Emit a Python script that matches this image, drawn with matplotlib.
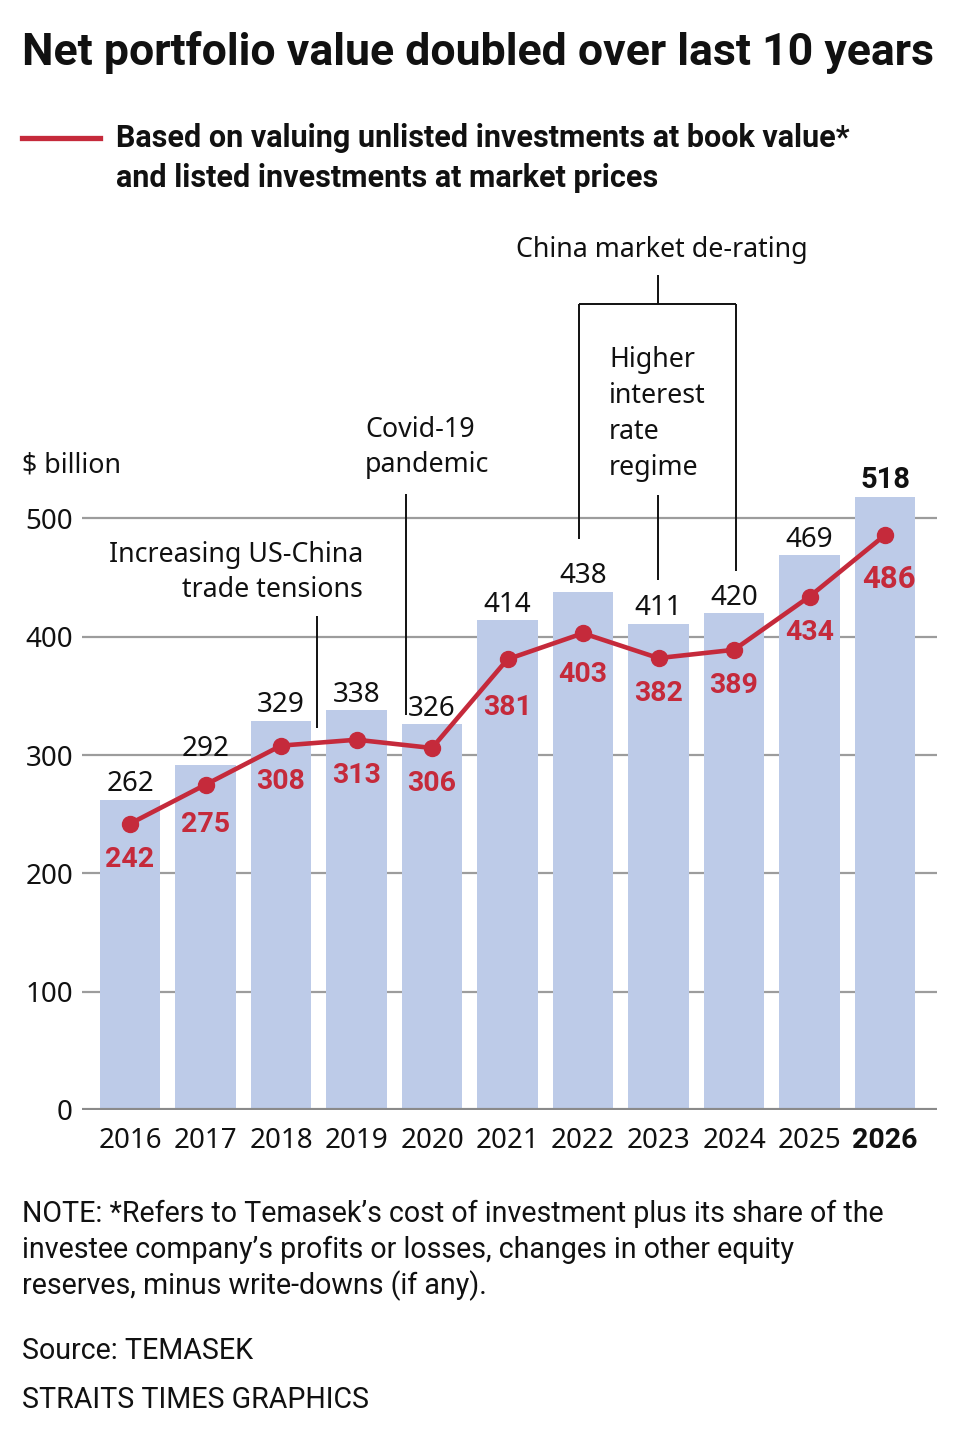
import matplotlib
matplotlib.use('Agg')
import matplotlib.pyplot as plt
from matplotlib import font_manager
import numpy as np

# ---------------- data ----------------
years = ['2016', '2017', '2018', '2019', '2020', '2021', '2022', '2023', '2024', '2025', '2026']
bar_values = [262, 292, 329, 338, 326, 414, 438, 411, 420, 469, 518]
line_values = [242, 275, 308, 313, 306, 381, 403, 382, 389, 434, 486]
y_ticks = [0, 100, 200, 300, 400, 500]

title = 'Net portfolio value doubled over last 10 years'
legend_lines = ['Based on valuing unlisted investments at book value*',
                'and listed investments at market prices']
note_lines = ['NOTE: *Refers to Temasek\u2019s cost of investment plus its share of the',
              'investee company\u2019s profits or losses, changes in other equity',
              'reserves, minus write-downs (if any).']
source_text = 'Source: TEMASEK'
credit_text = 'STRAITS TIMES GRAPHICS'

# ---------------- fonts ----------------
names = {f.name for f in font_manager.fontManager.ttflist}
COND = 'Liberation Sans Narrow' if 'Liberation Sans Narrow' in names else 'Roboto'
BODY = 'Noto Sans CJK SC' if 'Noto Sans CJK SC' in names else 'Noto Sans'
BOLDNUM = 'Roboto'

RED = '#c52a3b'
BAR = '#bdcbe8'
GRID = '#9c9c9c'
INK = '#111111'

W, H = 960, 1434
fig = plt.figure(figsize=(W / 100, H / 100), dpi=100)
fig.patch.set_facecolor('white')
renderer = fig.canvas.get_renderer()


def ftext(x, y, s, **kw):
    kw.setdefault('va', 'baseline')
    kw.setdefault('color', INK)
    return fig.text(x / W, 1 - y / H, s, **kw)


def fit(t, target):
    w = t.get_window_extent(renderer).width
    t.set_fontsize(t.get_fontsize() * target / w)
    return t.get_fontsize()


# ---------------- axes ----------------
PX_X = 75.5          # pixels per category
PX_Y = 1.183         # pixels per $bn
ax_left, ax_right, ax_bottom, ax_top = 82, 937, 1110, 200
ax = fig.add_axes([ax_left / W, (H - ax_bottom) / H,
                   (ax_right - ax_left) / W, (ax_bottom - ax_top) / H])
ax.set_xlim(-48 / PX_X, (ax_right - ax_left - 48) / PX_X)
ax.set_ylim(0, (ax_bottom - ax_top) / PX_Y)
for s in ax.spines.values():
    s.set_visible(False)

x = np.arange(len(years))
ax.bar(x, bar_values, width=0.795, color=BAR, zorder=2)
ax.axhline(0, color='#8a8a8a', lw=3, zorder=3)
ax.plot(x, line_values, color=RED, lw=3.3, marker='o', ms=11.5,
        solid_capstyle='round', zorder=5)

ax.set_yticks(y_ticks)
ax.set_yticklabels([str(v) for v in y_ticks], fontsize=20, family=BODY, color=INK)
ax.yaxis.grid(True, color=GRID, lw=1.6)
ax.set_axisbelow(True)
ax.tick_params(axis='y', length=0, pad=6.5)

ax.set_xticks(x)
ax.set_xticklabels(years, fontsize=20, family=BODY, color=INK, va='baseline')
last_lbl = ax.get_xticklabels()[-1]
last_lbl.set_fontfamily(BOLDNUM)
last_lbl.set_fontweight('bold')
last_lbl.set_fontsize(20.5)
ax.tick_params(axis='x', length=0, pad=27.4)

# value labels
for i, v in enumerate(bar_values):
    bold = (i == len(bar_values) - 1)
    ax.annotate(str(v), (i, v), xytext=(0, 6.5 if bold else 6.2), textcoords='offset points',
                ha='center', va='baseline', fontsize=21 if bold else 20,
                family=BOLDNUM if bold else BODY,
                fontweight='bold' if bold else 'normal', color=INK, zorder=6)

drop_px = {5: 56, 6: 49, 1: 47, 10: 53}
for i, v in enumerate(line_values):
    d = drop_px.get(i, 43)
    last = (i == len(line_values) - 1)
    ax.annotate(str(v), (i, v), xytext=(3 if last else 0, -d * 0.72),
                textcoords='offset points', ha='center', va='baseline',
                fontsize=22.5 if last else 20.5, family=BOLDNUM, fontweight='bold',
                color=RED, zorder=6)

# annotation leader lines (data coords)
lk = dict(color=INK, lw=1.4, solid_capstyle='butt', zorder=4, clip_on=False)
ax.plot([2.48, 2.48], [323, 418], **lk)                     # trade tensions
ax.plot([3.65, 3.65], [334, 521], **lk)                     # covid
ax.plot([6.99, 6.99], [681, 706], **lk)                     # china stub
ax.plot([5.95, 8.03], [681, 681], **lk)                     # china bracket
ax.plot([5.95, 5.95], [483, 681], **lk)
ax.plot([8.03, 8.03], [456, 681], **lk)
ax.plot([6.99, 6.99], [448, 520], **lk)                     # higher interest

# ---------------- texts ----------------
t = ftext(22, 65, title, family=COND, fontweight='bold', fontsize=30)
fit(t, 910)

fig.add_artist(plt.Line2D([22 / W, 100 / W], [1 - 138 / H, 1 - 138 / H],
                          color=RED, lw=3.8, transform=fig.transFigure))
t1 = ftext(116, 147, legend_lines[0], family=COND, fontweight='bold', fontsize=20)
fs = fit(t1, 732)
ftext(116, 187, legend_lines[1], family=COND, fontweight='bold', fontsize=fs)

ta = ftext(662, 257, 'China market de-rating', family=BODY, fontsize=20, ha='center')
afs = fit(ta, 292)
ftext(22, 472, '$ billion', family=BODY, fontsize=afs)
ftext(365, 437, 'Covid-19', family=BODY, fontsize=afs)
ftext(365, 472, 'pandemic', family=BODY, fontsize=afs)
ftext(363, 562, 'Increasing US-China', family=BODY, fontsize=afs, ha='right')
ftext(363, 597, 'trade tensions', family=BODY, fontsize=afs, ha='right')
for k, s in enumerate(['Higher', 'interest', 'rate', 'regime']):
    ftext(609, 367 + 36 * k, s, family=BODY, fontsize=afs)

tn = ftext(22, 1222, note_lines[0], family=COND, fontsize=18)
nfs = fit(tn, 863)
ftext(22, 1258, note_lines[1], family=COND, fontsize=nfs)
ftext(22, 1294, note_lines[2], family=COND, fontsize=nfs)
ftext(22, 1359, source_text, family=COND, fontsize=nfs)
ftext(22, 1408, credit_text, family=COND, fontsize=nfs)

fig.savefig('out.png', dpi=100, facecolor='white')
